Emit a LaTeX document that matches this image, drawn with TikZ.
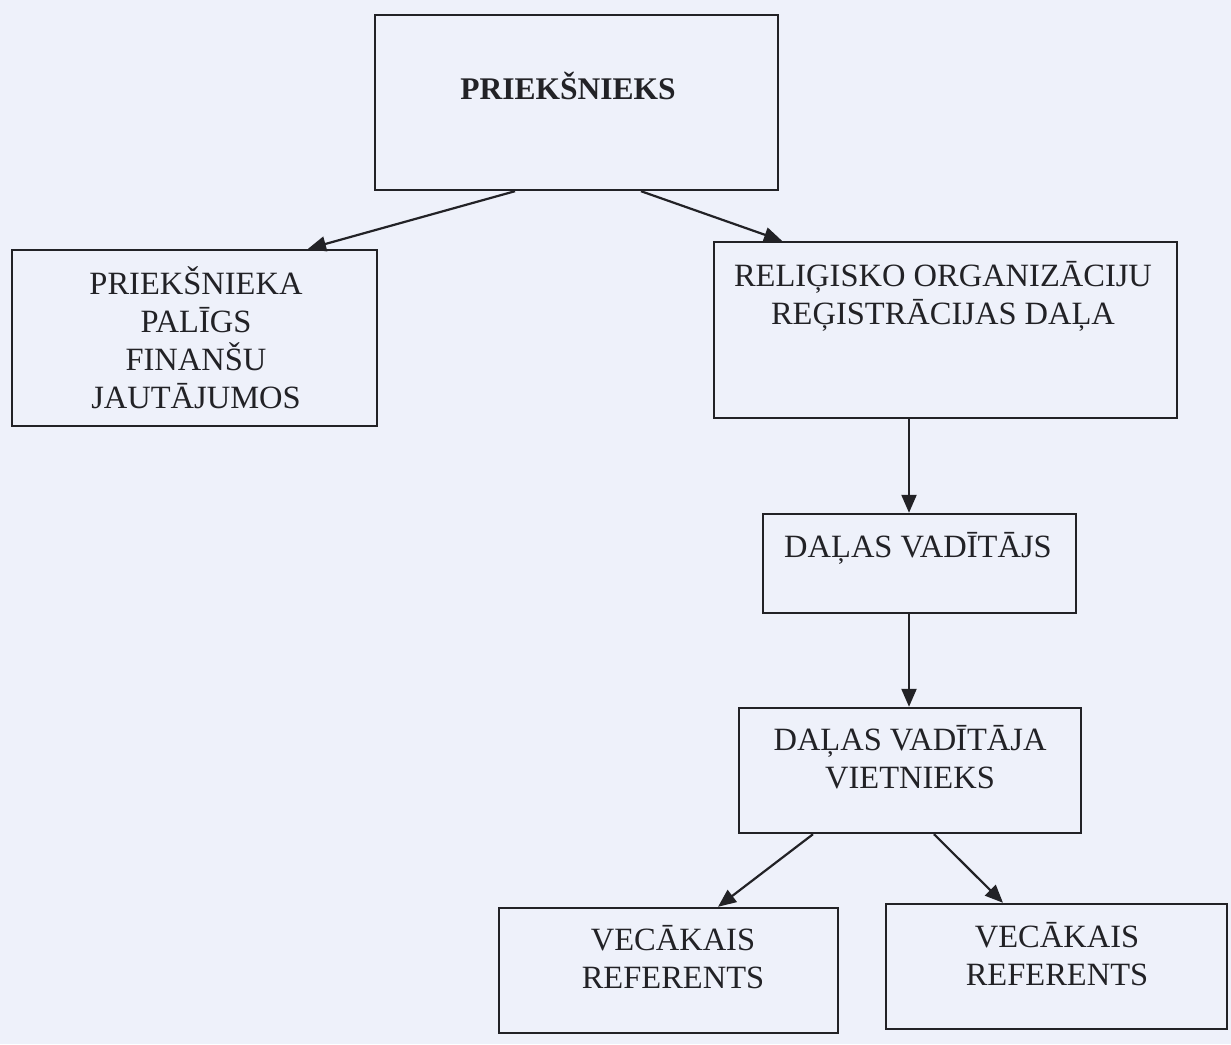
\documentclass[tikz,border=0pt]{standalone}
\usepackage{fontspec}
\setmainfont{Liberation Serif}
\usetikzlibrary{arrows.meta}
\definecolor{paper}{RGB}{238,241,250}
\definecolor{ink}{RGB}{34,34,38}
\tikzset{
  box/.style={draw=ink, line width=2.4pt, rectangle, inner sep=0pt},
  lbl/.style={text=ink, align=center, anchor=base, inner sep=0pt,
    font=\fontsize{32.5}{38}\selectfont},
  ttl/.style={text=ink, anchor=base, inner sep=0pt,
    font=\fontsize{31.5}{36}\selectfont\bfseries},
  arr/.style={draw=ink, line width=2.2pt, -{Triangle[length=18pt,width=15pt]}},
}
\begin{document}
\begin{tikzpicture}[x=1pt,y=-1pt]
\fill[paper] (0,0) rectangle (1231,1044);
\useasboundingbox (0,0) rectangle (1231,1044);
% boxes
\node[box, minimum width=403pt, minimum height=175pt] (top) at (576.5,102.5) {};
\node[box, minimum width=365pt, minimum height=176pt] (pal) at (194.5,338) {};
\node[box, minimum width=463pt, minimum height=176pt] (reg) at (945.5,330) {};
\node[box, minimum width=313pt, minimum height=99pt] (vad) at (919.5,563.5) {};
\node[box, minimum width=342pt, minimum height=125pt] (viet) at (910,770.5) {};
\node[box, minimum width=339pt, minimum height=125pt] (ref1) at (668.5,970.5) {};
\node[box, minimum width=341pt, minimum height=125pt] (ref2) at (1056.5,966.5) {};
% texts (base anchor = baseline of last line)
\node[ttl] (topt) at (568,99) {PRIEKŠNIEKS};
\node[lbl] (palt) at (196,408) {PRIEKŠNIEKA\\PALĪGS\\FINANŠU\\JAUTĀJUMOS};
\node[lbl] (regt) at (943,324) {RELIĢISKO ORGANIZĀCIJU\\REĢISTRĀCIJAS DAĻA};
\node[lbl] (vadt) at (918,557) {DAĻAS VADĪTĀJS};
\node[lbl] (vietT) at (910,788) {DAĻAS VADĪTĀJA\\VIETNIEKS};
\node[lbl] (ref1t) at (673,988) {VECĀKAIS\\REFERENTS};
\node[lbl] (ref2t) at (1057,985) {VECĀKAIS\\REFERENTS};
% connectors
\draw[arr] ([xshift=-61.5pt]top.south) -- ([xshift=113.5pt]pal.north);
\draw[arr] ([xshift=64.5pt]top.south) -- ([xshift=-163.5pt]reg.north);
\draw[arr] ([xshift=-36.5pt]reg.south) -- ([xshift=-10.5pt]vad.north);
\draw[arr] ([xshift=-10.5pt]vad.south) -- ([xshift=-1pt]viet.north);
\draw[arr] ([xshift=-97pt]viet.south) -- ([xshift=49.5pt]ref1.north);
\draw[arr] ([xshift=24pt]viet.south) -- ([xshift=-53.5pt]ref2.north);
\end{tikzpicture}
\end{document}
